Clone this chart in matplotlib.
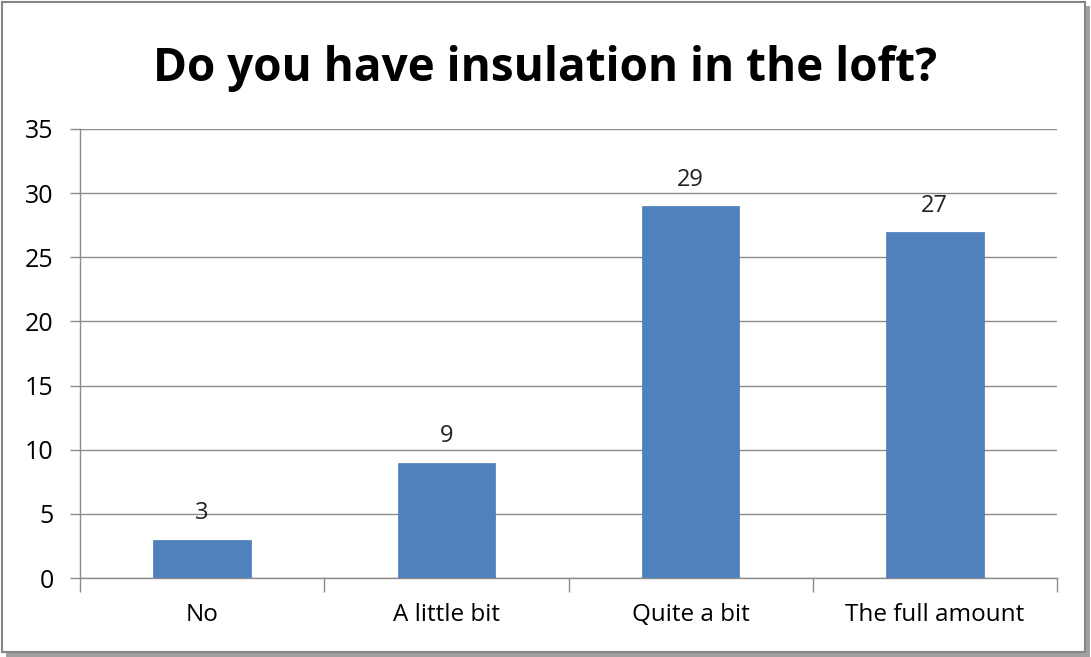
import matplotlib.pyplot as plt
from matplotlib.patches import Rectangle

# chart data
categories = ['No', 'A little bit', 'Quite a bit', 'The full amount']
counts = [3, 9, 29, 27]
y_ticks = [0, 5, 10, 15, 20, 25, 30, 35]

plt.rcParams['font.family'] = ['Open Sans', 'DejaVu Sans']

fig = plt.figure(figsize=(10.91, 6.57), dpi=100)
ax = fig.add_axes([80 / 1091, 1 - 578 / 657, (1057 - 80) / 1091, (578 - 129) / 657])

grey = '#8c8c8c'
x = range(len(categories))
ax.bar(x, counts, width=0.4, color='#4f81bd', edgecolor='#4a7ab5', linewidth=0.5, zorder=3)
for xi, v in zip(x, counts):
    ax.text(xi, v + 1.1, str(v), ha='center', va='bottom', fontsize=17, color='#222222')

ax.set_xlim(-0.5, len(categories) - 0.5)
ax.set_ylim(0, 35)
ax.set_yticks(y_ticks)
ax.set_xticks(list(x))
ax.set_xticklabels(categories, fontsize=17.5)
ax.tick_params(axis='y', labelsize=18, length=7, color=grey, width=1, pad=12)
ax.tick_params(axis='x', length=0, pad=18)
# category boundary ticks
ax.set_xticks([i - 0.5 for i in range(len(categories) + 1)], minor=True)
ax.tick_params(axis='x', which='minor', length=10, color=grey, width=1)

ax.yaxis.grid(True, color=grey, linewidth=1, zorder=0)
for side in ['top', 'right']:
    ax.spines[side].set_visible(False)
for side in ['left', 'bottom']:
    ax.spines[side].set_color(grey)
    ax.spines[side].set_linewidth(1)

fig.text(0.5, 1 - 68 / 657, 'Do you have insulation in the loft?', ha='center', va='center',
         fontsize=33, fontweight='bold', color='black')

# outer frame with shadow
fig.patches.append(Rectangle((6 / 1091, 0 / 657), 1084 / 1091, 651 / 657, transform=fig.transFigure,
                             facecolor='#a0a0a0', edgecolor='none', zorder=-2))
fig.patches.append(Rectangle((2 / 1091, 5 / 657), 1083 / 1091, 650 / 657, transform=fig.transFigure,
                             facecolor='white', edgecolor='#868686', linewidth=1.5, zorder=-1))

fig.savefig('out.png', dpi=100)
